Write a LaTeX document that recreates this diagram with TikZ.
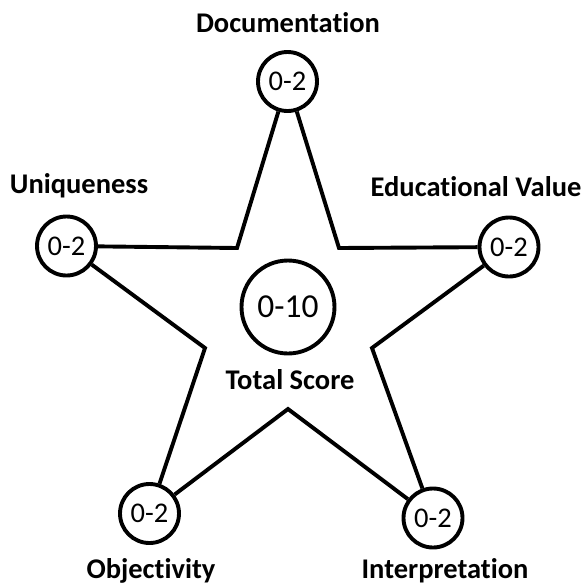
\documentclass[tikz,border=0pt]{standalone}
\usepackage{fontspec}
\setmainfont[Ligatures={NoCommon,NoContextual}]{Carlito}
\begin{document}
\begin{tikzpicture}[x=1pt,y=-1pt,
  score/.style={circle,draw,line width=3.9pt,minimum size=59pt,inner sep=0pt,font=\fontsize{28.5}{30}\selectfont},
  total/.style={circle,draw,line width=3.9pt,minimum size=93pt,inner sep=0pt,font=\fontsize{33.5}{36}\selectfont},
  lbl/.style={font=\bfseries\fontsize{28.5}{30}\selectfont,inner sep=0pt},
  edge/.style={line width=3.9pt,line join=miter}]
\useasboundingbox (0,0) rectangle (584,587);
\node[score] (doc) at (287.5,81.5) {0-2};
\node[score] (uni) at (66.5,246) {0-2};
\node[score] (edu) at (509,247) {0-2};
\node[score] (obj) at (149.5,513.5) {0-2};
\node[score] (int) at (433,518) {0-2};
\node[total] (tot) at (288,307) {0-10};
\coordinate (tl) at (237,248);
\coordinate (tr) at (339,248);
\coordinate (ri) at (372,348);
\coordinate (bo) at (288,409);
\coordinate (le) at (205,348);
\draw[edge] (doc) -- (tl) -- (uni);
\draw[edge] (doc) -- (tr) -- (edu);
\draw[edge] (edu) -- (ri) -- (int);
\draw[edge] (int) -- (bo) -- (obj);
\draw[edge] (obj) -- (le) -- (uni);
\node[lbl] (ldoc) at (288,23) {Documentation};
\node[lbl] (luni) at (79,186) {Uniqueness};
\node[lbl] (ledu) at (476,187) {Educational Value};
\node[lbl] (ltot) at (290,380) {Total Score};
\node[lbl] (lobj) at (151,571) {Objectivity};
\node[lbl] (lint) at (445,571) {Interpretation};
\end{tikzpicture}
\end{document}
